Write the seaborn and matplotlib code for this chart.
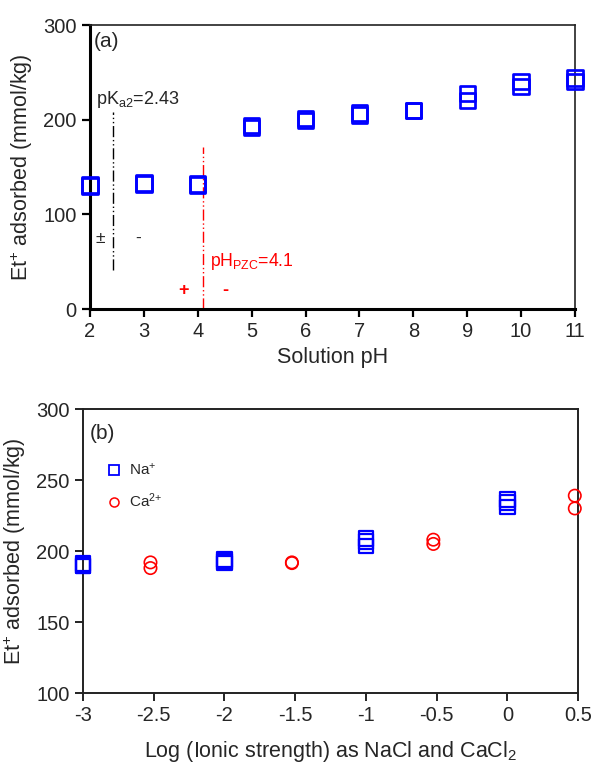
import matplotlib
matplotlib.use("Agg")
import matplotlib.pyplot as plt
from matplotlib.lines import Line2D
import numpy as np
import pandas as pd
import seaborn as sns

# ---- (a) adsorption vs. solution pH (duplicate runs) ----
ph_values = [2, 3, 4, 5, 6, 7, 8, 9, 10, 11]
ads_run1 = [131, 133, 132, 194, 201, 207, 210, 228, 240, 244]
ads_run2 = [130, 132, 131, 192, 199, 205, 210, 220, 235, 240]
pka2 = 2.43
ph_pzc = 4.1
pka2_span = [41, 208]
pzc_span = [0, 171]

# ---- (b) adsorption vs. log ionic strength ----
na_log_i = [-3, -3, -3, -2, -2, -2, -1, -1, -1, 0, 0, 0]
na_ads = [191, 190, 189.5, 194, 192.5, 191.5, 209, 206.5, 203.5, 236.5, 234, 231]
ca_log_i = [-2.523, -2.523, -1.523, -1.523, -0.523, -0.523, 0.477, 0.477]
ca_ads = [192, 188, 192, 191.5, 208, 205, 239, 230]
xticks_b = [-3, -2.5, -2, -1.5, -1, -0.5, 0, 0.5]
xticklabels_b = ["-3", "-2.5", "-2", "-1.5", "-1", "-0.5", "0", "0.5"]
yticks_b = [100, 150, 200, 250, 300]

sns.set_style("ticks")
plt.rcParams["font.family"] = ["Liberation Sans", "DejaVu Sans"]
plt.rcParams["mathtext.fontset"] = "custom"
plt.rcParams["mathtext.rm"] = "Liberation Sans"
plt.rcParams["mathtext.it"] = "Liberation Sans:italic"
plt.rcParams["mathtext.bf"] = "Liberation Sans:bold"

BLUE = "#0000ff"
RED = "#ff0000"
TICK_FS = 14.5
LABEL_FS = 15.5
DASH_DOT_DOT = (8, 2, 1, 2, 1, 2)

fig = plt.figure(figsize=(5.95, 7.63), dpi=100)

# ---------------- panel (a) ----------------
ax1 = fig.add_axes([0.1513, 0.595, 0.815, 0.3722])
df_a = pd.DataFrame({
    "pH": ph_values + ph_values,
    "ads": ads_run1 + ads_run2,
})
sns.scatterplot(data=df_a, x="pH", y="ads", marker="s", s=121,
                fc="none", ec=BLUE, linewidth=1.95, ax=ax1,
                clip_on=False, zorder=5, legend=False)

ax1.plot([pka2, pka2], pka2_span, color="black", lw=1.0, dashes=DASH_DOT_DOT)
ax1.plot([ph_pzc, ph_pzc], pzc_span, color=RED, lw=1.0, dashes=DASH_DOT_DOT)

ax1.text(2.07, 283, "(a)", fontsize=15, ha="left", va="center")
ax1.text(2.12, 221, r"pK$\mathregular{_{a2}}$=2.43", fontsize=13,
         ha="left", va="center")
ax1.text(2.19, 75, "±", fontsize=12.5, ha="center", va="center")
ax1.text(2.89, 75, "-", fontsize=12.5, ha="center", va="center")
ax1.text(4.23, 50, r"pH$\mathregular{_{PZC}}$=4.1", fontsize=12.7,
         color=RED, ha="left", va="center")
ax1.text(3.73, 20, "+", fontsize=13, color=RED, fontweight="bold",
         ha="center", va="center")
ax1.text(4.52, 20, "-", fontsize=13, color=RED, fontweight="bold",
         ha="center", va="center")

ax1.set_xlim(2, 11)
ax1.set_ylim(0, 300)
ax1.set_xticks(ph_values)
ax1.set_yticks([0, 100, 200, 300])
ax1.set_xlabel("Solution pH", fontsize=LABEL_FS, labelpad=4)
ax1.set_ylabel(r"Et$^{+}$ adsorbed (mmol/kg)", fontsize=LABEL_FS, labelpad=6)
ax1.tick_params(axis="both", labelsize=TICK_FS, direction="out",
                length=6, width=1.6, color="black")
for side in ["left", "bottom"]:
    ax1.spines[side].set_linewidth(2.2)
    ax1.spines[side].set_color("black")
for side in ["top", "right"]:
    ax1.spines[side].set_visible(True)
    ax1.spines[side].set_linewidth(1.2)
    ax1.spines[side].set_color("#222222")

# ---------------- panel (b) ----------------
ax2 = fig.add_axes([0.1395, 0.0917, 0.832, 0.3722])
df_na = pd.DataFrame({"logI": na_log_i, "ads": na_ads})
df_ca = pd.DataFrame({"logI": ca_log_i, "ads": ca_ads})
sns.scatterplot(data=df_na, x="logI", y="ads", marker="s", s=112,
                fc="none", ec=BLUE, linewidth=1.6, ax=ax2,
                clip_on=False, zorder=5, legend=False)
sns.scatterplot(data=df_ca, x="logI", y="ads", marker="o", s=79,
                fc="none", ec=RED, linewidth=1.2, ax=ax2,
                clip_on=False, zorder=5, legend=False)

handles = [
    Line2D([], [], ls="none", marker="s", ms=7.0, mfc="none", mec=BLUE,
           mew=1.3, label=r"Na$^{{+}}$"),
    Line2D([], [], ls="none", marker="o", ms=6.5, mfc="none", mec=RED,
           mew=1.1, label=r"Ca$^{2{+}}$"),
]
ax2.legend(handles=handles, loc="upper left", bbox_to_anchor=(0.035, 0.835),
           frameon=False, fontsize=11, handlelength=1.0,
           handletextpad=0.5, labelspacing=0.9, borderaxespad=0)

ax2.text(-2.95, 283, "(b)", fontsize=15, ha="left", va="center")

ax2.set_xlim(-3, 0.5)
ax2.set_ylim(100, 300)
ax2.set_xticks(xticks_b)
ax2.set_xticklabels(xticklabels_b)
ax2.set_yticks(yticks_b)
ax2.set_xlabel(r"Log (Ionic strength) as NaCl and CaCl$_{2}$",
               fontsize=LABEL_FS, labelpad=10)
ax2.set_ylabel(r"Et$^{+}$ adsorbed (mmol/kg)", fontsize=LABEL_FS, labelpad=6)
ax2.tick_params(axis="both", labelsize=TICK_FS, direction="out",
                length=6, width=1.4, color="#222222")
for side in ["left", "bottom", "top", "right"]:
    ax2.spines[side].set_visible(True)
    ax2.spines[side].set_linewidth(1.4)
    ax2.spines[side].set_color("#222222")

fig.savefig("out.png", dpi=100)
